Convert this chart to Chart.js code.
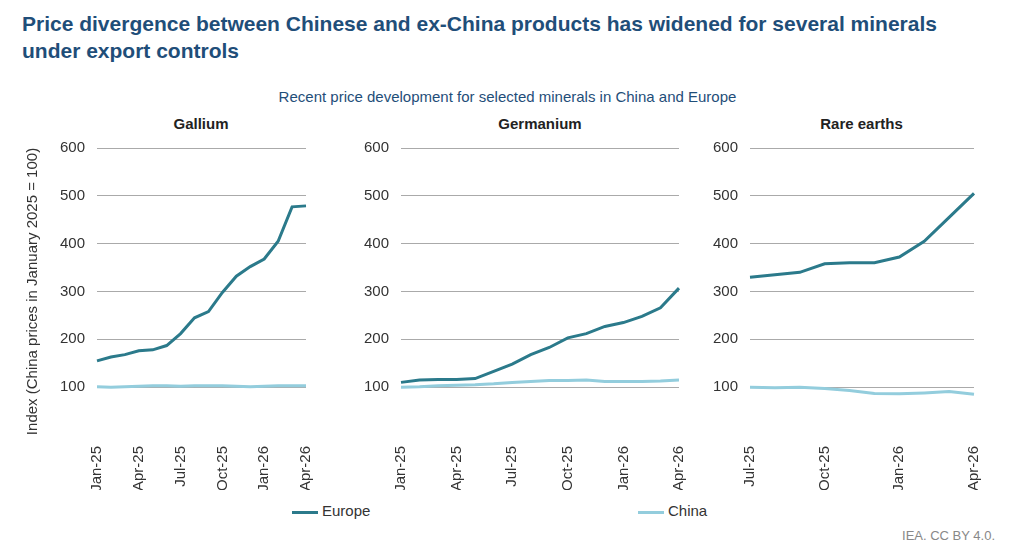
<!DOCTYPE html>
<html><head><meta charset="utf-8">
<script src="https://cdn.jsdelivr.net/npm/chart.js@4"></script>
<style>
body{margin:0;width:1015px;height:550px;background:#fff;font-family:"Liberation Sans",Arial,sans-serif;position:relative;overflow:hidden}
.t{position:absolute;left:22px;top:10px;font-size:21px;font-weight:bold;color:#1f4e79;line-height:27px;width:950px}
.sub{position:absolute;left:0;width:1015px;top:88px;text-align:center;font-size:15px;color:#1f4e79}
.pt{position:absolute;top:115px;font-size:15px;font-weight:bold;color:#222;text-align:center}
.c{position:absolute;top:127px;height:363px}
.lg{position:absolute;top:502px;font-size:15px;color:#333}
.lg span{display:inline-block;width:26px;height:3px;vertical-align:middle;margin-right:4px}
.src{position:absolute;right:20px;top:528px;font-size:13px;color:#888}
</style></head><body>
<div class="t">Price divergence between Chinese and ex-China products has widened for several minerals under export controls</div>
<div class="sub">Recent price development for selected minerals in China and Europe</div>
<div class="pt" style="left:97px;width:208px">Gallium</div>
<div class="pt" style="left:401px;width:278px">Germanium</div>
<div class="pt" style="left:750px;width:223px">Rare earths</div>
<div class="c" style="left:20px;width:307px"><canvas id="c1"></canvas></div>
<div class="c" style="left:345px;width:355px"><canvas id="c2"></canvas></div>
<div class="c" style="left:694px;width:301px"><canvas id="c3"></canvas></div>
<div class="lg" style="left:292px"><span style="background:#2b7a8b"></span>Europe</div>
<div class="lg" style="left:638px"><span style="background:#93cddd"></span>China</div>
<div class="src">IEA. CC BY 4.0.</div>
<script>
const monthsFull = ['Jan-25','Feb-25','Mar-25','Apr-25','May-25','Jun-25','Jul-25','Aug-25','Sep-25','Oct-25','Nov-25','Dec-25','Jan-26','Feb-26','Mar-26','Apr-26'];
const monthsRare = ['Jul-25','Aug-25','Sep-25','Oct-25','Nov-25','Dec-25','Jan-26','Feb-26','Mar-26','Apr-26'];
const galliumEurope = [155,163,168,176,178,187,212,245,258,298,332,352,368,405,477,479];
const galliumChina = [101,100,101,102,103,103,102,103,103,103,102,101,102,103,103,103];
const germaniumEurope = [110,115,116,116,118,133,148,168,183,203,212,227,235,248,266,307];
const germaniumChina = [100,101,103,104,105,107,110,112,114,114,115,112,112,112,113,115];
const rareEurope = [330,335,340,358,360,360,372,405,455,505];
const rareChina = [100,99,100,97,93,87,86,88,91,85];
const yTicks = [100,200,300,400,500,600];

function makeChart(id, labels, eu, cn, yWidth, showTitle) {
    const tickFont = {family: '"Liberation Sans", Arial, sans-serif', size: 15};
    return new Chart(document.getElementById(id), {
        type: 'line',
        data: {
            labels: labels,
            datasets: [
                {label: 'Europe', data: eu, borderColor: '#2b7a8b', borderWidth: 3, pointRadius: 0, tension: 0},
                {label: 'China', data: cn, borderColor: '#93cddd', borderWidth: 3, pointRadius: 0, tension: 0}
            ]
        },
        options: {
            responsive: true,
            maintainAspectRatio: false,
            animation: false,
            layout: {padding: {top: 7, right: 10, left: 0, bottom: 0}},
            plugins: {legend: {display: false}, tooltip: {enabled: false}},
            scales: {
                x: {
                    offset: false,
                    grid: {display: false},
                    border: {display: false},
                    ticks: {
                        autoSkip: false, maxRotation: 90, minRotation: 90, color: '#333', font: tickFont,
                        callback: (v, i) => i % 3 === 0 ? labels[i] : ''
                    },
                    afterFit: s => { s.height = 55; }
                },
                y: {
                    min: 0, max: 600,
                    afterBuildTicks: s => { s.ticks = yTicks.map(v => ({value: v})); },
                    grid: {color: '#aaa', borderDash: [1, 2], drawTicks: false},
                    border: {display: false},
                    ticks: {color: '#333', font: tickFont, padding: 12},
                    title: {display: showTitle, text: 'Index (China prices in January 2025 = 100)', color: '#333', font: tickFont},
                    afterFit: s => { s.width = yWidth; }
                }
            }
        }
    });
}

makeChart('c1', monthsFull, galliumEurope, galliumChina, 77, true);
makeChart('c2', monthsFull, germaniumEurope, germaniumChina, 56, false);
makeChart('c3', monthsRare, rareEurope, rareChina, 56, false);
</script>
</body></html>
